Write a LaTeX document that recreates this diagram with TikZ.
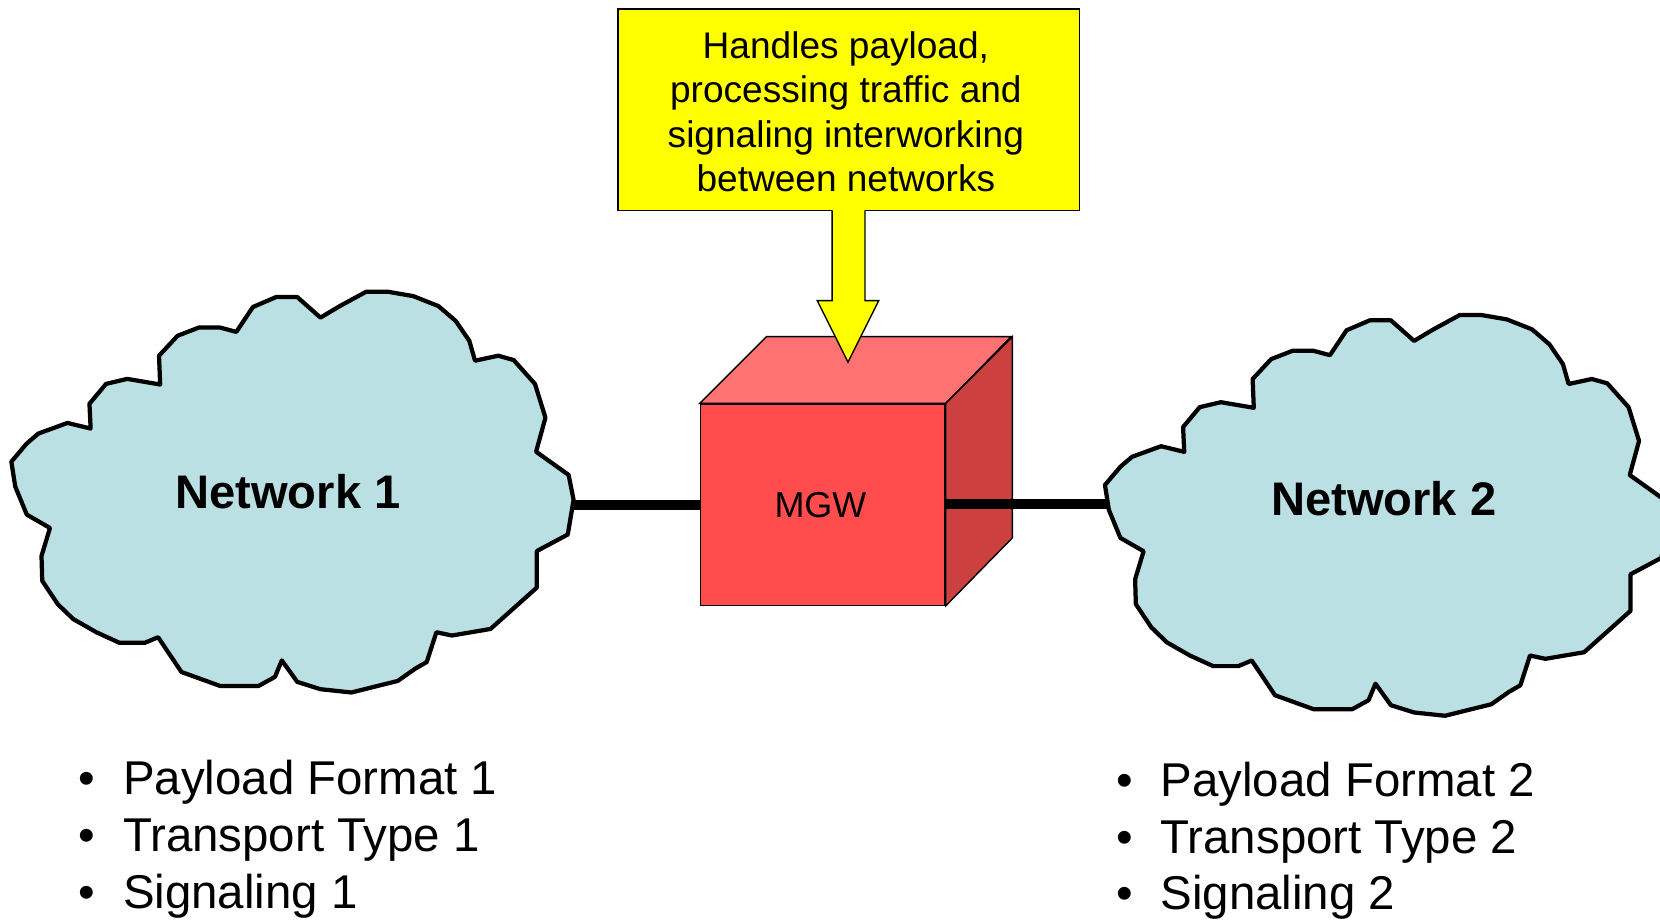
\documentclass[tikz,border=0pt]{standalone}
\usepackage{fontspec}
\setmainfont{Liberation Sans}
\definecolor{cloudblue}{RGB}{186,224,227}
\definecolor{noteyellow}{RGB}{255,255,0}
\definecolor{cubefront}{RGB}{255,77,77}
\definecolor{cubetop}{RGB}{255,114,114}
\definecolor{cubeside}{RGB}{204,64,64}
\pgfdeclarelayer{back}
\pgfsetlayers{back,main}
\tikzset{
  cloudshape/.style={draw=black, line width=4pt, fill=cloudblue, line join=round},
  link/.style={draw=black, line width=9pt},
  cubeface/.style={draw=black, line width=1.3pt, line join=miter},
  bullettext/.style={anchor=base west, inner sep=0pt, font=\fontsize{44.8}{53}\selectfont},
  bulletdot/.style={anchor=base, inner sep=0pt, font=\fontsize{44.8}{53}\selectfont},
  netlabel/.style={inner sep=0pt, font=\bfseries\fontsize{44.5}{53}\selectfont},
  netcloud/.pic={
    \path[cloudshape] (345.8,275.6) -- (366.6,275.6) -- (390.3,279.7) -- (414.1,289.1) -- (430.5,303.2)
      -- (443.3,321.9) -- (448.7,340.7) -- (470.6,336.0) -- (485.2,340.1) -- (505.3,362.6)
      -- (515.2,394.5) -- (506.4,426.7) -- (537.1,448.6) -- (541.8,472.1) -- (536.3,504.9)
      -- (507.1,520.5) -- (507.1,555.0) -- (463.3,594.1) -- (426.8,600.3) -- (412.2,597.2)
      -- (403.1,625.3) -- (392.2,631.6) -- (375.7,643.2) -- (331.9,654.1) -- (302.7,651.0)
      -- (280.8,644.1) -- (266.2,623.8) -- (259.7,639.4) -- (244.3,647.9) -- (207.8,647.9)
      -- (171.3,634.7) -- (149.4,601.9) -- (136.7,607.2) -- (112.9,607.2) -- (91.0,597.2)
      -- (69.1,584.7) -- (54.5,570.6) -- (39.9,548.7) -- (39.2,525.2) -- (47.2,498.7)
      -- (25.3,486.1) -- (14.4,459.6) -- (10.7,436.1) -- (25.3,418.9) -- (36.3,409.5)
      -- (63.7,399.5) -- (85.6,404.8) -- (84.5,381.4) -- (100.2,362.6) -- (120.2,357.9)
      -- (151.3,363.2) -- (150.2,336.0) -- (167.7,317.2) -- (187.8,309.4) -- (207.8,309.4)
      -- (223.2,313.5) -- (238.9,290.0) -- (260.8,280.6) -- (280.8,280.6) -- (302.7,300.0)
      -- (321.0,289.1) -- cycle;
  }
}
\begin{document}
\begin{tikzpicture}[x=1pt, y=-1pt]
\useasboundingbox (0,0) rectangle (1568,869);
\begin{scope}
\clip (0,0) rectangle (1568,869);

% clouds
\pic at (0,0) {netcloud};
\pic at (1033,22) {netcloud};
\coordinate (net1east) at (541,477);
\coordinate (net2west) at (1046,476);

% MGW cube front face
\node[cubeface, fill=cubefront, minimum width=231pt, minimum height=190pt, inner sep=0pt,
      anchor=north west] (mgw) at (661,381) {};
\node[inner sep=0pt, font=\fontsize{34}{40}\selectfont] (mgwlabel) at (775,477) {MGW};
\begin{pgfonlayer}{back}
  \draw[cubeface, fill=cubetop] (mgw.north west) -- ++(63,-63) -- ++(231,0) -- (mgw.north east) -- cycle;
  \draw[cubeface, fill=cubeside] (mgw.north east) -- ++(63,-63) -- ++(0,190) -- (mgw.south east) -- cycle;
\end{pgfonlayer}

% connectors
\draw[link] (net1east) -- (net1east -| mgw.west);
\draw[link] (mgw.east |- net2west) -- (net2west);

% network labels
\node[netlabel] (net1label) at (272,464) {Network 1};
\node[netlabel] (net2label) at (1307,471) {Network 2};

% note box
\node[draw=black, line width=1.3pt, fill=noteyellow, minimum width=436pt, minimum height=190pt,
      inner sep=0pt, anchor=north west] (note) at (583,8) {};
\node[inner sep=0pt, align=center, font=\fontsize{35}{42}\selectfont] (notetext) at (799,105.5)
  {Handles payload,\\processing traffic and\\signaling interworking\\between networks};

% block arrow from note to cube
\fill[noteyellow] (786,196.5) -- (786,284) -- (772,284) -- (801,342) -- (830,284) -- (817,284) -- (817,196.5) -- cycle;
\draw[black, line width=1.3pt, line join=miter] (786,198.6) -- (786,284) -- (772,284) -- (801,342) -- (830,284) -- (817,284) -- (817,198.6);

% bullet lists
\node[bulletdot] (b1a) at (82,750) {•};
\node[bullettext] (t1a) at (116,750) {Payload Format 1};
\node[bulletdot] (b1b) at (82,804) {•};
\node[bullettext] (t1b) at (116,804) {Transport Type 1};
\node[bulletdot] (b1c) at (82,858) {•};
\node[bullettext] (t1c) at (116,858) {Signaling 1};

\node[bulletdot] (b2a) at (1062,752) {•};
\node[bullettext] (t2a) at (1096,752) {Payload Format 2};
\node[bulletdot] (b2b) at (1062,806) {•};
\node[bullettext] (t2b) at (1096,806) {Transport Type 2};
\node[bulletdot] (b2c) at (1062,859) {•};
\node[bullettext] (t2c) at (1096,859) {Signaling 2};
\end{scope}
\end{tikzpicture}
\end{document}
